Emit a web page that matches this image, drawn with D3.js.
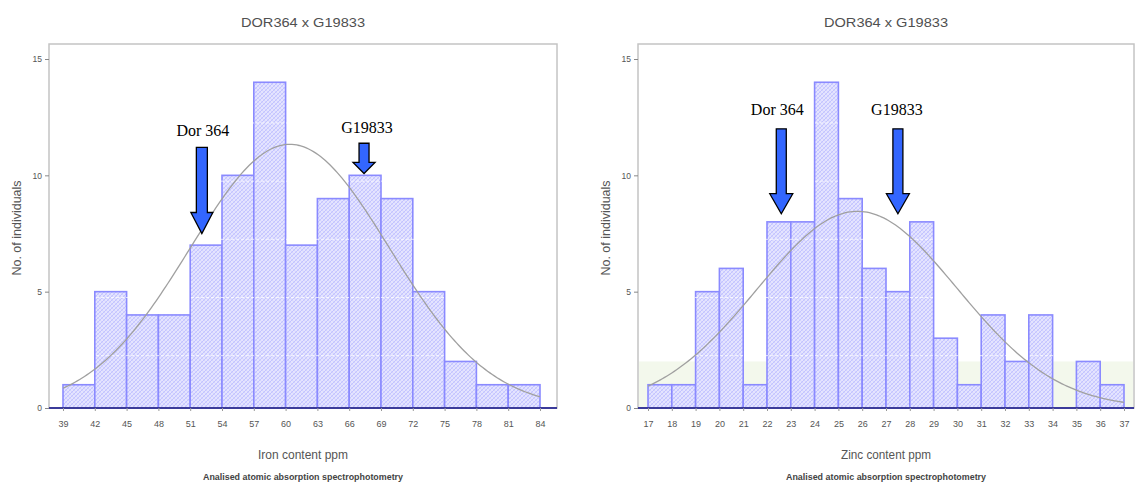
<!DOCTYPE html>
<html>
<head>
<meta charset="utf-8">
<script src="https://cdn.jsdelivr.net/npm/d3@7/dist/d3.min.js"></script>
<style>
  html, body { margin: 0; padding: 0; background: #fff; }
  svg { display: block; }
</style>
</head>
<body>
<svg id="chart" width="1136" height="491"></svg>
<script>
// Iron content histogram (bin starts, width 3 ppm)
const ironBinStarts = [39, 42, 45, 48, 51, 54, 57, 60, 63, 66, 69, 72, 75, 78, 81];
const ironCounts    = [1, 5, 4, 4, 7, 10, 14, 7, 9, 10, 9, 5, 2, 1, 1];
const ironTicks     = [39, 42, 45, 48, 51, 54, 57, 60, 63, 66, 69, 72, 75, 78, 81, 84];
const ironMean = 60.4, ironSd = 9.4;

// Zinc content histogram (bin starts, width 1 ppm)
const zincBinStarts = [17, 18, 19, 20, 21, 22, 23, 24, 25, 26, 27, 28, 29, 30, 31, 32, 33, 34, 35, 36];
const zincCounts    = [1, 1, 5, 6, 1, 8, 8, 14, 9, 6, 5, 8, 3, 1, 4, 2, 4, 0, 2, 1];
const zincTicks     = [17, 18, 19, 20, 21, 22, 23, 24, 25, 26, 27, 28, 29, 30, 31, 32, 33, 34, 35, 36, 37];
const zincMean = 25.8, zincSd = 4.2;

// Parent lines marked on each histogram
const parentNames       = ["Dor 364", "G19833"];
const ironParentValues  = [52.1, 67.4];
const zincParentValues  = [22.6, 27.5];

const yTicks = [0, 5, 10, 15];
const titleText = "DOR364 x G19833";
const yTitle = "No. of individuals";
const footText = "Analised atomic absorption spectrophotometry";

const svg = d3.select("#chart");
const defs = svg.append("defs");

// cross-hatched bar fill
const pat = defs.append("pattern")
  .attr("id", "hatch").attr("patternUnits", "userSpaceOnUse")
  .attr("width", 4).attr("height", 4);
pat.append("rect").attr("width", 4).attr("height", 4).attr("fill", "#e4e4ff");
pat.append("path").attr("d", "M-1,1 L1,-1 M0,4 L4,0 M3,5 L5,3")
  .attr("stroke", "#b4b4ff").attr("stroke-width", 0.7);
pat.append("path").attr("d", "M-1,3 L1,5 M0,0 L4,4 M3,-1 L5,1")
  .attr("stroke", "#c8c8ff").attr("stroke-width", 0.6);

const y = d3.scaleLinear().domain([0, 15]).range([408, 59]);
const frameTop = 44;

function drawPanel(o) {
  const g = svg.append("g");
  const x = d3.scaleLinear().domain(o.tickDomain).range(o.tickRange);
  const cx = (o.frameLeft + o.frameRight) / 2;

  // title
  g.append("text").attr("x", cx).attr("y", 27)
    .attr("text-anchor", "middle")
    .attr("font-family", "Liberation Sans, Arial, sans-serif")
    .attr("font-size", 13.5).attr("fill", "#505050")
    .attr("textLength", 124).attr("lengthAdjust", "spacingAndGlyphs")
    .text(titleText);

  // plot frame
  g.append("rect")
    .attr("x", o.frameLeft).attr("y", frameTop)
    .attr("width", o.frameRight - o.frameLeft).attr("height", y(0) - frameTop)
    .attr("fill", "none").attr("stroke", "#c4c4c4").attr("stroke-width", 1.5);

  if (o.band) {
    g.append("rect")
      .attr("x", o.frameLeft + 1).attr("y", y(2))
      .attr("width", o.frameRight - o.frameLeft - 2).attr("height", y(0) - y(2))
      .attr("fill", "#f3f8ec");
  }

  // bars
  g.selectAll("rect.bar").data(o.starts.map((s, i) => ({ s, c: o.counts[i] })).filter(d => d.c > 0))
    .join("rect").attr("class", "bar")
    .attr("x", d => x(d.s)).attr("y", d => y(d.c))
    .attr("width", d => x(d.s + o.binWidth) - x(d.s))
    .attr("height", d => y(0) - y(d.c))
    .attr("fill", "url(#hatch)")
    .attr("stroke", "#8a8aff").attr("stroke-width", 1.6);

  // faint dashed lines over bars
  [2.25, 4.75, 7.25, 9.75, 12.25].forEach(v => {
    g.append("line")
      .attr("x1", o.frameLeft + 2).attr("x2", o.frameRight - 2)
      .attr("y1", y(v)).attr("y2", y(v))
      .attr("stroke", "#ffffff").attr("stroke-width", 1)
      .attr("stroke-dasharray", "3,2").attr("opacity", 0.75);
  });

  // fitted normal curve
  const n = d3.sum(o.counts);
  const dens = v => n * o.binWidth / (o.sd * Math.sqrt(2 * Math.PI)) *
    Math.exp(-0.5 * Math.pow((v - o.mean) / o.sd, 2));
  const lo = o.tickDomain[0], hi = o.tickDomain[1];
  const pts = d3.range(0, 201).map(i => lo + (hi - lo) * i / 200);
  g.append("path")
    .attr("d", d3.line().x(v => x(v)).y(v => y(dens(v)))(pts))
    .attr("fill", "none").attr("stroke", "#a0a0a0").attr("stroke-width", 1.3);

  // baseline
  g.append("line")
    .attr("x1", o.frameLeft).attr("x2", o.frameRight)
    .attr("y1", y(0)).attr("y2", y(0))
    .attr("stroke", "#3b3b9a").attr("stroke-width", 2);

  // y axis
  const yAxis = d3.axisLeft(y).tickValues(yTicks).tickSize(4).tickPadding(3);
  const ya = g.append("g").attr("transform", `translate(${o.frameLeft},0)`).call(yAxis);
  ya.select(".domain").remove();
  ya.selectAll("line").attr("stroke", "#888");
  ya.selectAll("text").attr("font-family", "Liberation Sans, Arial, sans-serif")
    .attr("font-size", 8.5).attr("fill", "#555");

  // x axis
  const xAxis = d3.axisBottom(x).tickValues(o.ticks).tickSize(3).tickPadding(10);
  const xa = g.append("g").attr("transform", `translate(0,${y(0)})`).call(xAxis);
  xa.select(".domain").remove();
  xa.selectAll("line").attr("stroke", "#999");
  xa.selectAll("text").attr("font-family", "Liberation Sans, Arial, sans-serif")
    .attr("font-size", 9).attr("fill", "#555");

  // axis titles
  g.append("text")
    .attr("transform", `translate(${o.frameLeft - 28},${(frameTop + y(0)) / 2 + 2}) rotate(-90)`)
    .attr("text-anchor", "middle")
    .attr("font-family", "Liberation Sans, Arial, sans-serif")
    .attr("font-size", 12.5).attr("fill", "#555")
    .text(yTitle);
  g.append("text").attr("x", cx).attr("y", 459)
    .attr("text-anchor", "middle")
    .attr("font-family", "Liberation Sans, Arial, sans-serif")
    .attr("font-size", 12).attr("fill", "#555")
    .attr("textLength", o.xTitleLen).attr("lengthAdjust", "spacingAndGlyphs")
    .text(o.xTitle);
  g.append("text").attr("x", cx).attr("y", 480)
    .attr("text-anchor", "middle")
    .attr("font-family", "Liberation Sans, Arial, sans-serif")
    .attr("font-size", 8.5).attr("font-weight", "bold").attr("fill", "#444")
    .attr("textLength", 200).attr("lengthAdjust", "spacingAndGlyphs")
    .text(footText);

  // parent arrows
  o.arrows.forEach((a, i) => {
    const ax = x(o.parents[i]);
    const top = y(a.top), tip = y(a.tip), neck = tip - a.head;
    const sw = a.shaft / 2, hw = a.headW / 2;
    const d = `M${ax - sw},${top} L${ax + sw},${top} L${ax + sw},${neck} L${ax + hw},${neck}` +
              ` L${ax},${tip} L${ax - hw},${neck} L${ax - sw},${neck} Z`;
    g.append("path").attr("d", d)
      .attr("fill", "#3366ff").attr("stroke", "#000").attr("stroke-width", 1.3)
      .attr("stroke-linejoin", "miter");
    g.append("text").attr("x", ax + a.dx).attr("y", y(a.label))
      .attr("text-anchor", "middle")
      .attr("font-family", "Liberation Serif, 'Times New Roman', serif")
      .attr("font-size", 16).attr("fill", "#000")
      .text(parentNames[i]);
  });
}

drawPanel({
  frameLeft: 49, frameRight: 557,
  tickDomain: [39, 84], tickRange: [63, 540],
  starts: ironBinStarts, counts: ironCounts, binWidth: 3, ticks: ironTicks,
  mean: ironMean, sd: ironSd,
  xTitle: "Iron content ppm", xTitleLen: 90,
  parents: ironParentValues,
  arrows: [
    { top: 11.2, tip: 7.5, head: 21, shaft: 11, headW: 22, label: 11.7, dx: 1 },
    { top: 11.38, tip: 10.08, head: 11, shaft: 10, headW: 22, label: 11.8, dx: 3 }
  ]
});

drawPanel({
  frameLeft: 638, frameRight: 1134,
  tickDomain: [17, 37], tickRange: [648, 1124],
  starts: zincBinStarts, counts: zincCounts, binWidth: 1, ticks: zincTicks,
  mean: zincMean, sd: zincSd,
  xTitle: "Zinc content ppm", xTitleLen: 90, band: true,
  parents: zincParentValues,
  arrows: [
    { top: 12.0, tip: 8.35, head: 20, shaft: 10, headW: 23, label: 12.6, dx: -4 },
    { top: 12.0, tip: 8.35, head: 20, shaft: 10, headW: 23, label: 12.6, dx: -1 }
  ]
});
</script>
</body>
</html>
